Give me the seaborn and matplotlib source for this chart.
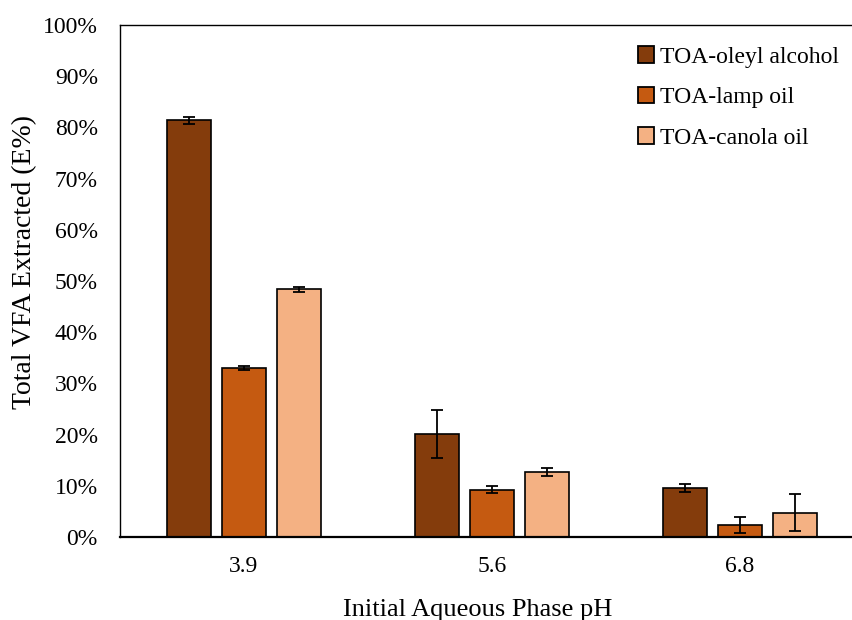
import matplotlib
matplotlib.use("Agg")
import matplotlib.pyplot as plt
import seaborn as sns
import pandas as pd
import numpy as np
from matplotlib.ticker import PercentFormatter

# Extraction efficiency (%) by initial aqueous phase pH for each extractant system
ph_labels = ["3.9", "5.6", "6.8"]
solvents = ["TOA-oleyl alcohol", "TOA-lamp oil", "TOA-canola oil"]
oleyl_alcohol = [81.4, 20.1, 9.5]
lamp_oil = [33.0, 9.2, 2.4]
canola_oil = [48.4, 12.7, 4.75]
oleyl_alcohol_err = [0.7, 4.75, 0.8]
lamp_oil_err = [0.4, 0.7, 1.55]
canola_oil_err = [0.5, 0.7, 3.6]

colors = ["#843C0C", "#C55A11", "#F4B183"]

df = pd.DataFrame({
    "pH": ph_labels * 3,
    "Solvent": np.repeat(solvents, 3),
    "E": oleyl_alcohol + lamp_oil + canola_oil,
    "err": oleyl_alcohol_err + lamp_oil_err + canola_oil_err,
})

sns.set_theme(style="white")
plt.rcParams["font.family"] = ["Liberation Serif", "DejaVu Serif"]
plt.rcParams["text.color"] = "black"
plt.rcParams["axes.labelcolor"] = "black"

fig = plt.figure(figsize=(8.52, 6.2), dpi=100)
ax = fig.add_axes([120 / 852, 83 / 620, 744 / 852, 512 / 620])

sns.barplot(data=df, x="pH", y="E", hue="Solvent", order=ph_labels,
            hue_order=solvents, palette=colors, errorbar=None,
            width=0.663, gap=0.2, edgecolor="black", linewidth=1.2,
            saturation=1, ax=ax)

# error bars at the centre of each drawn bar
for i, solvent in enumerate(solvents):
    cont = ax.containers[i]
    sub = df[df["Solvent"] == solvent].set_index("pH").loc[ph_labels]
    xs = [p.get_x() + p.get_width() / 2 for p in cont.patches]
    ax.errorbar(xs, sub["E"].values, yerr=sub["err"].values, fmt="none",
                ecolor="black", elinewidth=1.3, capsize=4.5, capthick=1.3,
                zorder=5)

ax.set_ylim(0, 100)
ax.set_xlim(-0.5, 2.5)
ax.set_yticks(np.arange(0, 101, 10))
ax.yaxis.set_major_formatter(PercentFormatter(decimals=0))
ax.tick_params(axis="both", length=0, labelsize=17, colors="black")
ax.tick_params(axis="x", pad=14)
ax.tick_params(axis="y", pad=16)

for side in ["left", "top", "bottom"]:
    ax.spines[side].set_visible(True)
    ax.spines[side].set_color("black")
ax.spines["left"].set_linewidth(1.0)
ax.spines["top"].set_linewidth(1.0)
ax.spines["bottom"].set_linewidth(1.6)
ax.spines["right"].set_visible(False)

ax.set_xlabel("Initial Aqueous Phase pH", fontsize=19)
ax.set_ylabel("Total VFA Extracted (E%)", fontsize=20)
ax.xaxis.set_label_coords(0.4805, -0.122)
ax.yaxis.set_label_coords(-0.112, 0.537)

leg = ax.legend(loc="upper right", bbox_to_anchor=(0.995, 1.0), frameon=False,
                fontsize=17, handlelength=0.7, handleheight=0.7,
                handletextpad=0.25, labelspacing=0.8)
for h in leg.legend_handles:
    h.set_edgecolor("black")
    h.set_linewidth(1.3)

fig.savefig("out.png", dpi=100)
